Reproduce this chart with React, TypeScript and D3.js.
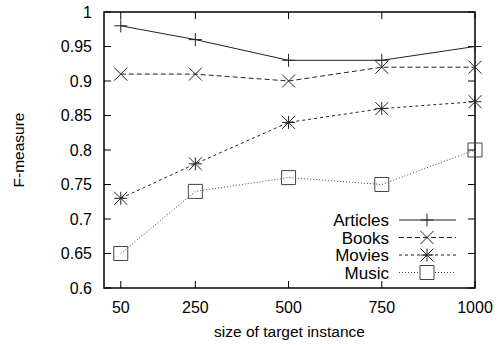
import { useRef, useEffect } from 'react';
import * as d3 from 'd3';

const sizes = [50, 250, 500, 750, 1000];
const articles = [0.98, 0.96, 0.93, 0.93, 0.95];
const books = [0.91, 0.91, 0.9, 0.92, 0.92];
const movies = [0.73, 0.78, 0.84, 0.86, 0.87];
const music = [0.65, 0.74, 0.76, 0.75, 0.8];
const yTicks = [0.6, 0.65, 0.7, 0.75, 0.8, 0.85, 0.9, 0.95, 1];

type Marker = 'plus' | 'cross' | 'star' | 'square';

const series: { name: string; values: number[]; dash: string; marker: Marker }[] = [
  { name: 'Articles', values: articles, dash: 'none', marker: 'plus' },
  { name: 'Books', values: books, dash: '5,3', marker: 'cross' },
  { name: 'Movies', values: movies, dash: '3,3', marker: 'star' },
  { name: 'Music', values: music, dash: '1,2', marker: 'square' },
];

const markerPath = (m: Marker, r: number) => {
  const p = d3.path();
  if (m === 'plus' || m === 'star') {
    p.moveTo(-r, 0); p.lineTo(r, 0);
    p.moveTo(0, -r); p.lineTo(0, r);
  }
  if (m === 'cross' || m === 'star') {
    p.moveTo(-r, -r); p.lineTo(r, r);
    p.moveTo(-r, r); p.lineTo(r, -r);
  }
  if (m === 'square') p.rect(-r, -r, 2 * r, 2 * r);
  return p.toString();
};

const App = () => {
  const svgRef = useRef<SVGSVGElement>(null);

  useEffect(() => {
    if (!svgRef.current) return;
    const width = 498;
    const height = 345;
    const margin = { top: 12, right: 23, bottom: 57, left: 104 };
    const font = "'Liberation Sans', Arial, Helvetica, sans-serif";

    const svg = d3.select(svgRef.current).attr('width', width).attr('height', height);
    svg.selectAll('*').remove();

    const x = d3.scaleLinear().domain([5, 1000]).range([margin.left, width - margin.right]);
    const y = d3.scaleLinear().domain([0.6, 1]).range([height - margin.bottom, margin.top]);
    const [x0, x1] = x.range();
    const [y0, y1] = y.range();
    const tick = 7;

    // y ticks (inward, mirrored on the right)
    const yg = svg.append('g');
    yTicks.forEach((t) => {
      yg.append('line').attr('x1', x0).attr('x2', x0 + tick).attr('y1', y(t)).attr('y2', y(t)).attr('stroke', '#000');
      yg.append('line').attr('x1', x1).attr('x2', x1 - tick).attr('y1', y(t)).attr('y2', y(t)).attr('stroke', '#000');
      yg.append('text')
        .attr('x', x0 - 12)
        .attr('y', y(t))
        .attr('dy', '0.36em')
        .attr('text-anchor', 'end')
        .attr('font-family', font)
        .attr('font-size', 16)
        .text(d3.format('')(t));
    });

    const xg = svg.append('g');
    sizes.forEach((s) => {
      xg.append('line').attr('x1', x(s)).attr('x2', x(s)).attr('y1', y0).attr('y2', y0 - tick).attr('stroke', '#000');
      xg.append('line').attr('x1', x(s)).attr('x2', x(s)).attr('y1', y1).attr('y2', y1 + tick).attr('stroke', '#000');
      xg.append('text')
        .attr('x', x(s))
        .attr('y', y0 + 25)
        .attr('text-anchor', 'middle')
        .attr('font-family', font)
        .attr('font-size', 16)
        .text(s);
    });

    svg.append('rect')
      .attr('x', x0).attr('y', y1)
      .attr('width', x1 - x0).attr('height', y0 - y1)
      .attr('fill', 'none').attr('stroke', '#000').attr('stroke-width', 1.5);

    svg.append('text')
      .attr('x', (x0 + x1) / 2)
      .attr('y', 337)
      .attr('text-anchor', 'middle')
      .attr('font-family', font)
      .attr('font-size', 15.5)
      .text('size of target instance');

    svg.append('text')
      .attr('transform', `translate(24, ${(y0 + y1) / 2}) rotate(-90)`)
      .attr('text-anchor', 'middle')
      .attr('font-family', font)
      .attr('font-size', 15.5)
      .text('F-measure');

    const line = d3.line<number>().x((d, i) => x(sizes[i])).y((d) => y(d));

    series.forEach((s) => {
      const col = s.marker === 'square' ? '#444' : '#222';
      svg.append('path')
        .attr('d', line(s.values))
        .attr('fill', 'none')
        .attr('stroke', col)
        .attr('stroke-width', 1)
        .attr('stroke-dasharray', s.dash);
      svg.append('g')
        .selectAll('path')
        .data(s.values)
        .enter()
        .append('path')
        .attr('transform', (d, i) => `translate(${x(sizes[i])}, ${y(d)})`)
        .attr('d', markerPath(s.marker, s.marker === 'square' ? 7 : 6.5))
        .attr('fill', 'none')
        .attr('stroke', col)
        .attr('stroke-width', 1);
    });

    // legend
    const legend = svg.append('g');
    series.forEach((s, i) => {
      const ly = 220 + i * 17.5;
      const col = s.marker === 'square' ? '#444' : '#222';
      legend.append('text')
        .attr('x', 389)
        .attr('y', ly)
        .attr('dy', '0.36em')
        .attr('text-anchor', 'end')
        .attr('font-family', font)
        .attr('font-size', 17)
        .text(s.name);
      legend.append('line')
        .attr('x1', 399).attr('x2', 456)
        .attr('y1', ly).attr('y2', ly)
        .attr('stroke', col)
        .attr('stroke-dasharray', s.dash);
      legend.append('path')
        .attr('transform', `translate(427, ${ly})`)
        .attr('d', markerPath(s.marker, s.marker === 'square' ? 7 : 6.5))
        .attr('fill', s.marker === 'square' ? '#fff' : 'none')
        .attr('stroke', col);
    });
  }, []);

  return (
    <svg ref={svgRef} style={{ position: 'absolute', left: 0, top: 0, background: '#fff' }}></svg>
  );
};

export default App;
